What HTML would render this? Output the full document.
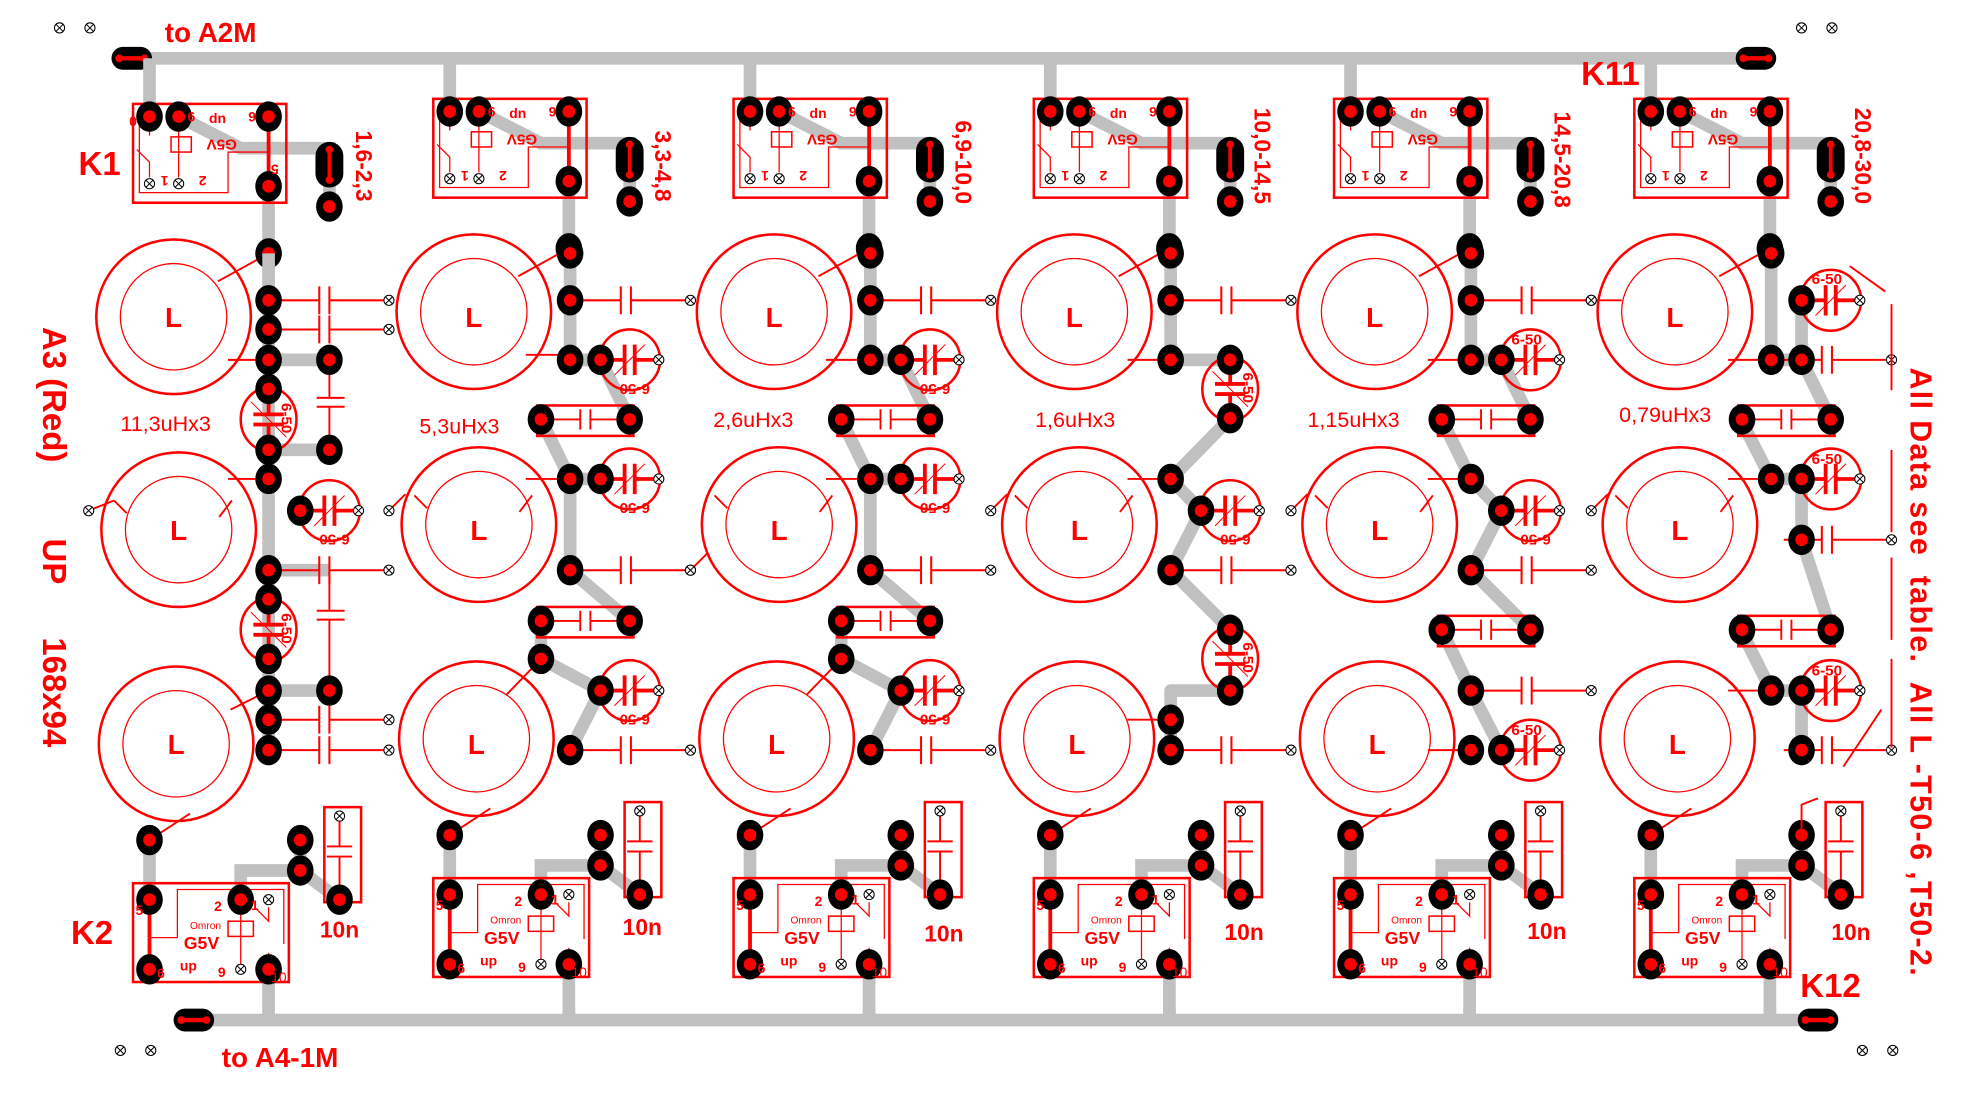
<!DOCTYPE html>
<html><head><meta charset="utf-8"><style>
html,body{margin:0;padding:0;background:#fff;}
svg{display:block;}
text{font-family:"Liberation Sans",sans-serif;fill:#f00;font-weight:bold;}
</style></head><body>
<svg width="1984" height="1110" viewBox="0 0 1566 876" preserveAspectRatio="none" xmlns="http://www.w3.org/2000/svg">
<defs>
<g id="pad"><ellipse rx="10.5" ry="12" fill="#000"/><circle r="5" fill="#f00"/></g>
<g id="xx"><circle r="4" fill="#fff" stroke="#000" stroke-width="0.8"/><path d="M-2.8-2.8L2.8 2.8M2.8-2.8L-2.8 2.8" stroke="#000" stroke-width="0.8"/></g>
<g id="tor" fill="none" stroke="#f00"><circle r="61" stroke-width="2"/><circle r="42" stroke-width="1"/></g>
<g id="ch"><path d="M10 0H40M40-11V11M48-11V11M48 0H91" stroke="#f00" stroke-width="1.6" fill="none"/><use href="#xx" x="95"/></g>
<g id="trH"><circle r="24" fill="none" stroke="#f00" stroke-width="2"/><path d="M-22 0H-4M4 0H20" stroke="#f00" stroke-width="3"/><path d="M-4-12V12M4-12V12" stroke="#f00" stroke-width="3"/><path d="M-12 12L12-12" stroke="#f00" stroke-width="0.8"/><use href="#xx" x="23"/></g>
<g id="trV"><ellipse rx="22" ry="25" fill="none" stroke="#f00" stroke-width="2"/><path d="M0-22V-4M0 4V22M-12-4H12M-12 4H12" stroke="#f00" stroke-width="3"/><path d="M-14-14L14 14" stroke="#f00" stroke-width="0.8"/></g>
<g id="obV"><rect x="-11" y="-5" width="22" height="36" rx="11" fill="#000"/><path d="M0 1V25" stroke="#f00" stroke-width="3"/><circle cy="1" r="3" fill="#f00"/><circle cy="25" r="3" fill="#f00"/></g>
<g id="obH"><rect x="-16" y="-9" width="32" height="18" rx="9" fill="#000"/><path d="M-10 0H10" stroke="#f00" stroke-width="3.5"/><circle cx="-10" r="3" fill="#f00"/><circle cx="10" r="3" fill="#f00"/></g>
<g id="box"><rect x="-38" y="-11" width="76" height="24" fill="none" stroke="#f00" stroke-width="2"/><path d="M-35 0H-4M-4-8V8M4-8V8M4 0H35" stroke="#f00" stroke-width="1.5"/><use href="#pad" x="-35"/><use href="#pad" x="35"/></g>

<g id="col">
 <g stroke="#c0c0c0" stroke-width="10" fill="none">
  <path d="M118 46V92"/><path d="M141 92L190 117H260V163"/><path d="M212 147V200"/>
  <path d="M118 663V710"/><path d="M237 663V687H190V710"/><path d="M237 687L268 710"/><path d="M212 765V805"/>
 </g>
 <rect x="105" y="82" width="121" height="78" fill="none" stroke="#f00" stroke-width="2"/>
 <path d="M110 98V152H180V120H212" fill="none" stroke="#f00" stroke-width="1"/>
 <rect x="135" y="108" width="16" height="12" fill="none" stroke="#f00" stroke-width="1.2"/>
 <path d="M141 92V140M118 92V107M118 140V128L108 118" fill="none" stroke="#f00" stroke-width="1"/>
 <path d="M212 92V147" stroke="#f00" stroke-width="3"/>
 <use href="#pad" x="118" y="92"/><use href="#pad" x="141" y="92"/><use href="#pad" x="212" y="92"/><use href="#pad" x="212" y="147"/>
 <use href="#xx" x="118" y="145"/><use href="#xx" x="141" y="145"/>
 <use href="#obV" x="260" y="117"/><use href="#pad" x="260" y="163"/>
 <use href="#tor" x="137" y="250"/><use href="#tor" x="141" y="418"/><use href="#tor" x="139" y="587"/>
 <path d="M212 200L172 222M90 395L100 405M183 395L173 408" stroke="#f00" stroke-width="1.5" fill="none"/>
 <path d="M150 642L118 663" stroke="#f00" stroke-width="1.5"/>
 <use href="#pad" x="212" y="200"/>
 <rect x="105" y="697" width="123" height="78" fill="none" stroke="#f00" stroke-width="2"/>
 <path d="M118 740H140V702H224V745" fill="none" stroke="#f00" stroke-width="1"/>
 <rect x="180" y="727" width="20" height="12" fill="none" stroke="#f00" stroke-width="1.2"/>
 <path d="M190 710V765M212 716V727L202 717M212 765V752" fill="none" stroke="#f00" stroke-width="1"/>
 <path d="M118 710V765" stroke="#f00" stroke-width="3"/>
 <use href="#pad" x="118" y="663"/><use href="#pad" x="118" y="710"/><use href="#pad" x="118" y="765"/>
 <use href="#pad" x="190" y="710"/><use href="#pad" x="212" y="765"/>
 <use href="#xx" x="212" y="710"/><use href="#xx" x="190" y="765"/>
 <use href="#pad" x="237" y="663"/><use href="#pad" x="237" y="687"/>
 <rect x="256" y="637" width="29" height="75" fill="none" stroke="#f00" stroke-width="2"/>
 <path d="M268 645V668M258 668H278M258 676H278M268 676V710" stroke="#f00" stroke-width="1.5" fill="none"/>
 <use href="#pad" x="268" y="710"/><use href="#xx" x="268" y="644"/>
</g>
</defs>

<g stroke="#c0c0c0" stroke-width="10" fill="none">
 <path d="M100 46H1388"/><path d="M153 805H1435"/>
</g>
<use href="#obH" x="104" y="46"/><use href="#obH" x="1386" y="46"/>
<use href="#obH" x="153" y="805"/><use href="#obH" x="1435" y="805"/>

<use href="#col"/>
<use href="#col" x="237" y="-4"/>
<use href="#col" x="474" y="-4"/>
<use href="#col" x="711" y="-4"/>
<use href="#col" x="948" y="-4"/>
<use href="#col" x="1185" y="-4"/>
<g stroke="#c0c0c0" stroke-width="10"><path d="M449 795V805M686 795V805M923 795V805M1160 795V805M1397 795V805"/></g>

<use href="#xx" x="47" y="22"/><use href="#xx" x="71" y="22"/><use href="#xx" x="1422" y="22"/><use href="#xx" x="1446" y="22"/>
<use href="#xx" x="95" y="829"/><use href="#xx" x="119" y="829"/><use href="#xx" x="1470" y="829"/><use href="#xx" x="1494" y="829"/>

<g stroke="#c0c0c0" stroke-width="10" fill="none" stroke-linejoin="round">
 <path d="M212 200V592M212 284H260M212 355H260M212 450H260M212 545H260"/>
 <path d="M450 196V284H474L497 331M427 331L450 378H474M450 378V450L497 490M427 490V520L474 545L450 592"/>
 <path d="M687 196V284H711L734 331M664 331L687 378H711M687 378V450L734 490M664 490V520L711 545L687 592"/>
 <path d="M924 196V284H971M971 330L924 378L948 403L924 450L971 497M971 545H924V592"/>
 <path d="M1161 196V284H1185L1208 331M1138 331L1161 378L1185 403L1161 450L1208 497M1138 497L1161 545L1185 592"/>
 <path d="M1398 196V284H1422L1445 331M1374 331L1398 378H1422V426L1445 497M1374 497L1398 545H1422V592M1422 237V284"/>
</g>

<use href="#ch" x="212" y="237"/><use href="#ch" x="212" y="260"/>
<use href="#ch" x="212" y="450"/><use href="#ch" x="212" y="568"/><use href="#ch" x="212" y="592"/>
<path d="M260 284V314M250 314H272M250 321H272M260 321V355M260 450V482M250 482H272M250 489H272M260 489V545" stroke="#f00" stroke-width="1.5" fill="none"/>
<use href="#trV" x="212" y="331"/><use href="#trV" x="212" y="497"/>
<use href="#trH" x="260" y="403"/>
<path d="M180 284H212M70 403L90 395M180 378H212M182 560L212 545" stroke="#f00" stroke-width="1.5" fill="none"/>
<use href="#xx" x="70" y="403"/>
<use href="#pad" x="212" y="237"/><use href="#pad" x="212" y="260"/><use href="#pad" x="212" y="284"/><use href="#pad" x="260" y="284"/>
<use href="#pad" x="212" y="307"/><use href="#pad" x="212" y="355"/><use href="#pad" x="260" y="355"/><use href="#pad" x="212" y="378"/>
<use href="#pad" x="237" y="403"/><use href="#pad" x="212" y="450"/><use href="#pad" x="212" y="473"/><use href="#pad" x="212" y="520"/>
<use href="#pad" x="212" y="545"/><use href="#pad" x="260" y="545"/><use href="#pad" x="212" y="568"/><use href="#pad" x="212" y="592"/>

<g>
 <use href="#ch" x="450" y="237"/><use href="#ch" x="450" y="450"/><use href="#ch" x="450" y="592"/>
 <use href="#trH" x="497" y="284"/><use href="#trH" x="497" y="378"/><use href="#trH" x="497" y="545"/>
 <use href="#box" x="462" y="331"/><use href="#box" x="462" y="490"/>
 <path d="M415 280H450M415 378H450M427 520L400 548M307 403L320 390" stroke="#f00" stroke-width="1.5" fill="none"/><use href="#xx" x="307" y="403"/>
 <use href="#pad" x="450" y="200"/><use href="#pad" x="450" y="237"/><use href="#pad" x="450" y="284"/><use href="#pad" x="474" y="284"/><use href="#pad" x="450" y="378"/><use href="#pad" x="474" y="378"/><use href="#pad" x="450" y="450"/><use href="#pad" x="427" y="520"/><use href="#pad" x="474" y="545"/><use href="#pad" x="450" y="592"/>
</g>
<g>
 <use href="#ch" x="687" y="237"/><use href="#ch" x="687" y="450"/><use href="#ch" x="687" y="592"/>
 <use href="#trH" x="734" y="284"/><use href="#trH" x="734" y="378"/><use href="#trH" x="734" y="545"/>
 <use href="#box" x="699" y="331"/><use href="#box" x="699" y="490"/>
 <path d="M652 284H687M652 378H687M664 520L637 548M545 450L558 437" stroke="#f00" stroke-width="1.5" fill="none"/><use href="#xx" x="545" y="450"/>
 <use href="#pad" x="687" y="200"/><use href="#pad" x="687" y="237"/><use href="#pad" x="687" y="284"/><use href="#pad" x="711" y="284"/><use href="#pad" x="687" y="378"/><use href="#pad" x="711" y="378"/><use href="#pad" x="687" y="450"/><use href="#pad" x="664" y="520"/><use href="#pad" x="711" y="545"/><use href="#pad" x="687" y="592"/>
</g>
<g>
 <use href="#ch" x="924" y="237"/><use href="#ch" x="924" y="450"/><use href="#ch" x="924" y="592"/>
 <use href="#trV" x="971" y="307"/><use href="#trV" x="971" y="520"/><use href="#trH" x="971" y="403"/>
 <path d="M890 284H924M890 378H924M890 568H924M782 403L795 390" stroke="#f00" stroke-width="1.5" fill="none"/><use href="#xx" x="782" y="403"/>
 <use href="#pad" x="924" y="200"/><use href="#pad" x="924" y="237"/><use href="#pad" x="924" y="284"/><use href="#pad" x="971" y="284"/><use href="#pad" x="971" y="330"/><use href="#pad" x="924" y="378"/><use href="#pad" x="948" y="403"/><use href="#pad" x="924" y="450"/><use href="#pad" x="971" y="497"/><use href="#pad" x="971" y="545"/><use href="#pad" x="924" y="568"/><use href="#pad" x="924" y="592"/>
</g>
<g>
 <use href="#ch" x="1161" y="237"/><use href="#ch" x="1161" y="450"/><use href="#ch" x="1161" y="545"/>
 <use href="#trH" x="1208" y="284"/><use href="#trH" x="1208" y="403"/><use href="#trH" x="1208" y="592"/>
 <use href="#box" x="1173" y="331"/><use href="#box" x="1173" y="497"/>
 <path d="M1127 284H1161M1127 378H1161M1127 592H1161M1019 403L1032 390" stroke="#f00" stroke-width="1.5" fill="none"/><use href="#xx" x="1019" y="403"/>
 <use href="#pad" x="1161" y="200"/><use href="#pad" x="1161" y="237"/><use href="#pad" x="1161" y="284"/><use href="#pad" x="1185" y="284"/><use href="#pad" x="1161" y="378"/><use href="#pad" x="1185" y="403"/><use href="#pad" x="1161" y="450"/><use href="#pad" x="1161" y="545"/><use href="#pad" x="1185" y="592"/><use href="#pad" x="1161" y="592"/>
</g>
<g>
 <use href="#trH" x="1445" y="237"/><use href="#trH" x="1445" y="378"/><use href="#trH" x="1445" y="545"/>
 <use href="#ch" x="1398" y="284"/><use href="#ch" x="1398" y="426"/><use href="#ch" x="1398" y="592"/>
 <use href="#box" x="1410" y="331"/><use href="#box" x="1410" y="497"/>
 <path d="M1364 284H1398M1364 378H1398M1364 545H1398M1256 403L1269 390M1256 237H1280M1460 210L1488 230M1455 605L1485 560M1422 663V635L1435 630" stroke="#f00" stroke-width="1.5" fill="none"/><use href="#xx" x="1256" y="403"/><use href="#xx" x="1256" y="237"/>
 <path d="M1493 240V308M1493 355V420M1493 440V505M1493 520V590" stroke="#f00" stroke-width="1.5"/>
 <use href="#pad" x="1398" y="200"/><use href="#pad" x="1422" y="237"/><use href="#pad" x="1398" y="284"/><use href="#pad" x="1422" y="284"/><use href="#pad" x="1398" y="378"/><use href="#pad" x="1422" y="378"/><use href="#pad" x="1422" y="426"/><use href="#pad" x="1398" y="545"/><use href="#pad" x="1422" y="545"/><use href="#pad" x="1422" y="592"/>
</g>

<g font-size="22" text-anchor="middle">
<text x="137" y="258">L</text><text x="141" y="426">L</text><text x="139" y="595">L</text>
<text x="374" y="258">L</text><text x="378" y="426">L</text><text x="376" y="595">L</text>
<text x="611" y="258">L</text><text x="615" y="426">L</text><text x="613" y="595">L</text>
<text x="848" y="258">L</text><text x="852" y="426">L</text><text x="850" y="595">L</text>
<text x="1085" y="258">L</text><text x="1089" y="426">L</text><text x="1087" y="595">L</text>
<text x="1322" y="258">L</text><text x="1326" y="426">L</text><text x="1324" y="595">L</text>
</g>
<g font-size="17">
<text x="95" y="340" style="font-weight:normal">11,3uHx3</text>
<text x="331" y="342" style="font-weight:normal">5,3uHx3</text>
<text x="563" y="337" style="font-weight:normal">2,6uHx3</text>
<text x="817" y="337" style="font-weight:normal">1,6uHx3</text>
<text x="1032" y="337" style="font-weight:normal">1,15uHx3</text>
<text x="1278" y="333" style="font-weight:normal">0,79uHx3</text>
</g>
<g font-size="18">
<text transform="translate(281,103) rotate(90)">1,6-2,3</text>
<text transform="translate(517,103) rotate(90)">3,3-4,8</text>
<text transform="translate(754,95) rotate(90)">6,9-10,0</text>
<text transform="translate(990,85) rotate(90)">10,0-14,5</text>
<text transform="translate(1227,88) rotate(90)">14,5-20,8</text>
<text transform="translate(1464,85) rotate(90)">20,8-30,0</text>
</g>
<g font-size="12">
<text transform="translate(222,318) rotate(90)">6-50</text><text transform="translate(222,484) rotate(90)">6-50</text>
<text transform="translate(276,422) rotate(180)">6-50</text>
<text transform="translate(513,303) rotate(180)">6-50</text><text transform="translate(513,397) rotate(180)">6-50</text><text transform="translate(513,564) rotate(180)">6-50</text>
<text transform="translate(750,303) rotate(180)">6-50</text><text transform="translate(750,397) rotate(180)">6-50</text><text transform="translate(750,564) rotate(180)">6-50</text>
<text transform="translate(981,294) rotate(90)">6-50</text><text transform="translate(981,507) rotate(90)">6-50</text>
<text transform="translate(987,422) rotate(180)">6-50</text>
<text x="1193" y="272">6-50</text><text transform="translate(1224,422) rotate(180)">6-50</text><text x="1193" y="580">6-50</text>
<text x="1430" y="224">6-50</text><text x="1430" y="366">6-50</text><text x="1430" y="533">6-50</text>
</g>
<g font-size="11">
<text x="148" y="96">6</text><text x="165" y="97">dn</text><text x="196" y="96">9</text><text transform="translate(220,130) rotate(180)">5</text><text transform="translate(108,92) rotate(180)">0</text>
<text transform="translate(187,110) rotate(180)" font-size="12">G5V</text><text transform="translate(163,139) rotate(180)">2</text><text transform="translate(133,139) rotate(180)">1</text>
<text x="385" y="92">6</text><text x="402" y="93">dn</text><text x="433" y="92">9</text><text transform="translate(424,106) rotate(180)" font-size="12">G5V</text><text transform="translate(400,135) rotate(180)">2</text><text transform="translate(370,135) rotate(180)">1</text>
<text x="622" y="92">6</text><text x="639" y="93">dn</text><text x="670" y="92">9</text><text transform="translate(661,106) rotate(180)" font-size="12">G5V</text><text transform="translate(637,135) rotate(180)">2</text><text transform="translate(607,135) rotate(180)">1</text>
<text x="859" y="92">6</text><text x="876" y="93">dn</text><text x="907" y="92">9</text><text transform="translate(898,106) rotate(180)" font-size="12">G5V</text><text transform="translate(874,135) rotate(180)">2</text><text transform="translate(844,135) rotate(180)">1</text>
<text x="1096" y="92">6</text><text x="1113" y="93">dn</text><text x="1144" y="92">9</text><text transform="translate(1135,106) rotate(180)" font-size="12">G5V</text><text transform="translate(1111,135) rotate(180)">2</text><text transform="translate(1081,135) rotate(180)">1</text>
<text x="1333" y="92">6</text><text x="1350" y="93">dn</text><text x="1381" y="92">9</text><text transform="translate(1372,106) rotate(180)" font-size="12">G5V</text><text transform="translate(1348,135) rotate(180)">2</text><text transform="translate(1318,135) rotate(180)">1</text>
</g>
<g font-size="11">
<text x="107" y="722">5</text><text x="124" y="772">6</text><text x="169" y="719">2</text><text x="198" y="718">1</text><text x="142" y="766">up</text><text x="172" y="771">9</text><text x="214" y="775" style="font-weight:normal">10</text><text x="145" y="749" font-size="14">G5V</text>
<text x="344" y="718">5</text><text x="361" y="768">6</text><text x="406" y="715">2</text><text x="435" y="714">1</text><text x="379" y="762">up</text><text x="409" y="767">9</text><text x="451" y="771" style="font-weight:normal">10</text><text x="382" y="745" font-size="14">G5V</text>
<text x="581" y="718">5</text><text x="598" y="768">6</text><text x="643" y="715">2</text><text x="672" y="714">1</text><text x="616" y="762">up</text><text x="646" y="767">9</text><text x="688" y="771" style="font-weight:normal">10</text><text x="619" y="745" font-size="14">G5V</text>
<text x="818" y="718">5</text><text x="835" y="768">6</text><text x="880" y="715">2</text><text x="909" y="714">1</text><text x="853" y="762">up</text><text x="883" y="767">9</text><text x="925" y="771" style="font-weight:normal">10</text><text x="856" y="745" font-size="14">G5V</text>
<text x="1055" y="718">5</text><text x="1072" y="768">6</text><text x="1117" y="715">2</text><text x="1146" y="714">1</text><text x="1090" y="762">up</text><text x="1120" y="767">9</text><text x="1162" y="771" style="font-weight:normal">10</text><text x="1093" y="745" font-size="14">G5V</text>
<text x="1292" y="718">5</text><text x="1309" y="768">6</text><text x="1354" y="715">2</text><text x="1383" y="714">1</text><text x="1327" y="762">up</text><text x="1357" y="767">9</text><text x="1399" y="771" style="font-weight:normal">10</text><text x="1330" y="745" font-size="14">G5V</text>
</g>
<g font-size="8">
<text x="150" y="733" style="font-weight:normal">Omron</text><text x="387" y="729" style="font-weight:normal">Omron</text><text x="624" y="729" style="font-weight:normal">Omron</text><text x="861" y="729" style="font-weight:normal">Omron</text><text x="1098" y="729" style="font-weight:normal">Omron</text><text x="1335" y="729" style="font-weight:normal">Omron</text>
</g>
<g font-size="18" text-anchor="middle">
<text x="268" y="740">10n</text><text x="507" y="738">10n</text><text x="745" y="743">10n</text><text x="982" y="742">10n</text><text x="1221" y="741">10n</text><text x="1461" y="742">10n</text>
</g>
<g font-size="22">
<text x="130" y="33">to A2M</text>
<text x="175" y="842">to A4-1M</text>
</g>
<g font-size="26">
<text x="62" y="138">K1</text>
<text x="1248" y="67">K11</text>
<text x="56" y="745">K2</text>
<text x="1421" y="787">K12</text>
</g>
<g font-size="26">
<text transform="translate(34,258) rotate(90)">A3 (Red)</text>
<text transform="translate(34,425) rotate(90)">UP</text>
<text transform="translate(34,503) rotate(90)">168x94</text>
</g>
<text font-size="24" transform="translate(1508,290) rotate(90)" textLength="480" lengthAdjust="spacing" xml:space="preserve">All Data see  table.  All L -T50-6 ,T50-2.</text>
</svg>
</body></html>
